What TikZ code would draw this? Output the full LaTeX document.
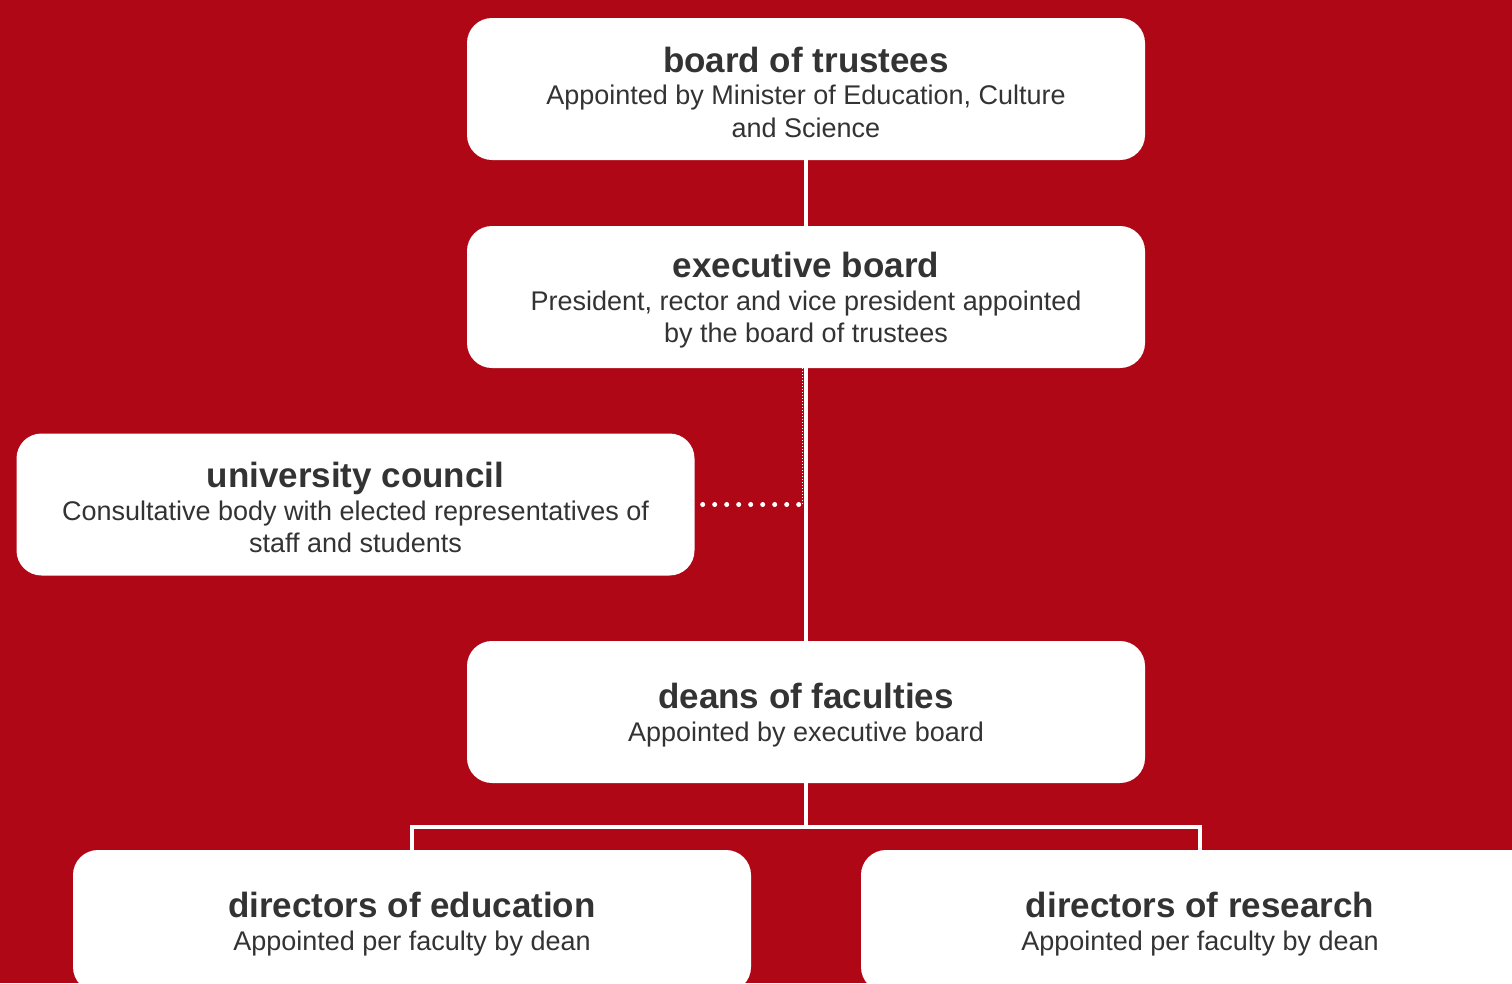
\documentclass[tikz,border=0pt]{standalone}
\usepackage{fontspec}
\setmainfont{Liberation Sans}
\definecolor{unired}{HTML}{AF0715}
\definecolor{inktext}{HTML}{333333}
\newcommand{\boxtitle}[1]{{\fontsize{35}{38}\selectfont\bfseries\rule{0pt}{32pt}#1}}
\begin{document}
\begin{tikzpicture}[x=1pt,y=-1pt,
	orgbox/.style={rectangle,fill=white,rounded corners=25pt,minimum width=678pt,
	minimum height=142pt,align=center,text=inktext,inner sep=0pt,
	font=\fontsize{27}{32.5}\selectfont},
	conn/.style={draw=white,line width=4.5pt},
	dotline/.style={draw=white,line width=5pt,line cap=round,dash pattern=on 0pt off 12pt}]
\useasboundingbox (0,0) rectangle (1512,983);
\clip (0,0) rectangle (1512,983);
\fill[unired] (0,0) rectangle (1512,983);
\node[orgbox] (trustees) at (806,89) {\boxtitle{board of trustees}\\Appointed by Minister of Education, Culture\\and Science};
\node[orgbox] (exec) at (806,297) {\boxtitle{executive board}\\President, rector and vice president appointed\\by the board of trustees};
\node[orgbox] (council) at (355.5,504.5) {\boxtitle{university council}\\Consultative body with elected representatives of\\staff and students};
\node[orgbox] (deans) at (806,712) {\boxtitle{deans of faculties}\\Appointed by executive board};
\node[orgbox] (edu) at (412,921) {\boxtitle{directors of education}\\Appointed per faculty by dean};
\node[orgbox] (research) at (1200,921) {\boxtitle{directors of research}\\Appointed per faculty by dean};
\coordinate (joint) at (council.east -| exec.south);
\coordinate (fork) at (806,827);
% connectors
\draw[conn] (trustees) -- (exec);
\draw[conn] (exec) -- (deans);
\draw[draw=white,line width=1pt,dotted] ([xshift=-3.5pt]exec.south) -- ([xshift=-3.5pt]joint);
\draw[dotline] ([xshift=8pt]council.east) -- ([xshift=-3pt]joint);
\draw[conn] (deans) -- (fork);
\draw[conn] (edu.north) |- (fork) -| (research.north);
\end{tikzpicture}
\end{document}
